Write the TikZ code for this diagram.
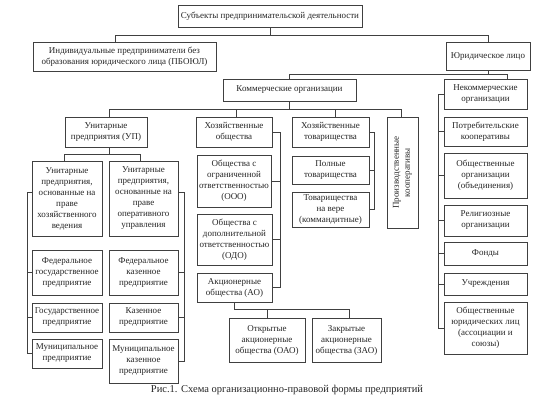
\documentclass[tikz,border=0pt]{standalone}
\usepackage{fontspec}
\setmainfont{Liberation Serif}
\begin{document}
\begin{tikzpicture}[x=1pt,y=-1pt,
  box/.style={draw=black!75, line width=0.6pt, align=center, inner sep=0.5pt,
    font=\fontsize{9pt}{11pt}\selectfont, text=black!85},
  conn/.style={draw=black!75, line width=0.6pt},
  capt/.style={font=\fontsize{10.5pt}{12pt}\selectfont, text=black!85}]
\newcommand\Bx[6][]{\node[box,minimum width={(#4-#2)*1pt},minimum height={(#5-#3)*1pt},#1] (#6) at ({(#2+#4)/2},{(#3+#5)/2})}
\fill[white] (0,0) rectangle (554,413);
\useasboundingbox (0,0) rectangle (554,413);
% boxes
\Bx{178}{5}{362}{27}{top} {Субъекты предпринимательской деятельности};
\Bx{33}{42}{216}{71}{ip} {Индивидуальные предприниматели без\\образования юридического лица (ПБОЮЛ)};
\Bx{446}{42}{530}{70}{jur} {Юридическое лицо};
\Bx{223}{79}{356}{101}{kom} {Коммерческие организации};
\Bx{444}{79}{527}{109}{nekom} {Некоммерческие\\организации};
\Bx{65}{117}{147}{147}{up} {Унитарные\\предприятия (УП)};
\Bx{196}{117}{272}{147}{hozob} {Хозяйственные\\общества};
\Bx{292}{117}{369}{147}{hoztov} {Хозяйственные\\товарищества};
\Bx[minimum width=111pt,minimum height=31pt,rotate=90]{387}{117}{418}{228}{proizv} {Производственные\\кооперативы};
\Bx{444}{117}{527}{146}{potr} {Потребительские\\кооперативы};
\Bx{444}{153}{527}{198}{obsh} {Общественные\\организации\\(объединения)};
\Bx{32}{161}{102}{236}{upleft} {Унитарные\\предприятия,\\основанные на\\праве\\хозяйственного\\ведения};
\Bx{109}{161}{178}{236}{upright} {Унитарные\\предприятия,\\основанные на\\праве\\оперативного\\управления};
\Bx{197}{155}{271}{207}{ooo} {Общества с\\ограниченной\\ответственностью\\(ООО)};
\Bx{197}{214}{272}{265}{odo} {Общества с\\дополнительной\\ответственностью\\(ОДО)};
\Bx{197}{273}{272}{302}{ao} {Акционерные\\общества (АО)};
\Bx{292}{156}{369}{184}{poln} {Полные\\товарищества};
\Bx{292}{192}{369}{227}{vera} {Товарищества\\на вере\\(коммандитные)};
\Bx{444}{205}{527}{236}{relig} {Религиозные\\организации};
\Bx{444}{242}{527}{265}{fond} {Фонды};
\Bx{444}{273}{527}{295}{uchr} {Учреждения};
\Bx{444}{302}{527}{354}{assoc} {Общественные\\юридических лиц\\(ассоциации и\\союзы)};
\Bx{32}{250}{102}{295}{fedgos} {Федеральное\\государственное\\предприятие};
\Bx{32}{303}{102}{332}{gos} {Государственное\\предприятие};
\Bx{32}{339}{102}{368}{mun} {Муниципальное\\предприятие};
\Bx{109}{250}{178}{295}{fedkaz} {Федеральное\\казенное\\предприятие};
\Bx{109}{303}{178}{332}{kaz} {Казенное\\предприятие};
\Bx{109}{339}{178}{383}{munkaz} {Муниципальное\\казенное\\предприятие};
\Bx{229}{318}{305}{362}{oao} {Открытые\\акционерные\\общества (ОАО)};
\Bx{312}{318}{381}{362}{zao} {Закрытые\\акционерные\\общества (ЗАО)};
\node[capt] (cap) at (287,390) {Рис.1. Схема организационно-правовой формы предприятий};
% helper coordinates
\coordinate (r1) at (0,35);
\coordinate (r2) at (0,74);
\coordinate (r3) at (0,109);
\coordinate (r4) at (0,154);
\coordinate (r5) at (0,309);
\coordinate (bl) at (27,0);
\coordinate (br) at (184,0);
\coordinate (bh) at (280,0);
\coordinate (bt) at (374,0);
\coordinate (bn) at (438,0);
% top level
\draw[conn] (top.south) -- (top.south |- r1);
\draw[conn] ([xshift=-9.5pt]ip.north) |- (jur.north |- r1) -- (jur.north);
% legal entity
\draw[conn] (jur.south) -- (jur.south |- r2);
\draw[conn] (kom.north) |- ([xshift=22pt]nekom.north |- r2) -- ([xshift=22pt]nekom.north);
% commercial
\draw[conn] (kom.south) -- (kom.south |- r3);
\draw[conn] ([xshift=3pt]up.north) |- ([xshift=-1.5pt]proizv.east |- r3) -- ([xshift=-1.5pt]proizv.east);
\draw[conn] ([xshift=2pt]hozob.north) -- ([xshift=2pt]hozob.north |- r3);
\draw[conn] ([xshift=4.5pt]hoztov.north) -- ([xshift=4.5pt]hoztov.north |- r3);
% unitary
\draw[conn] ([xshift=3pt]up.south) -- ([xshift=3pt]up.south |- r4);
\draw[conn] ([xshift=-3pt]upleft.north) |- ([xshift=-3.5pt]upright.north |- r4) -- ([xshift=-3.5pt]upright.north);
\draw[conn] ([yshift=6pt]upleft.west) -| (bl |- mun.west) -- (mun.west);
\draw[conn] (fedgos.west) -- (fedgos.west -| bl);
\draw[conn] (gos.west) -- (gos.west -| bl);
\draw[conn] ([yshift=6pt]upright.east) -| (br |- munkaz.east) -- (munkaz.east);
\draw[conn] (fedkaz.east) -- (fedkaz.east -| br);
\draw[conn] (kaz.east) -- (kaz.east -| br);
% companies
\draw[conn] (hozob.east) -| (bh |- ao.east) -- (ao.east);
\draw[conn] (ooo.east) -- (ooo.east -| bh);
\draw[conn] (odo.east) -- (odo.east -| bh);
\draw[conn] (ao.south) |- ([xshift=2.5pt]zao.north |- r5) -- ([xshift=2.5pt]zao.north);
\draw[conn] (oao.north) -- (oao.north |- r5);
% partnerships
\draw[conn] (hoztov.east) -| (bt |- vera.east) -- (vera.east);
\draw[conn] (poln.east) -- (poln.east -| bt);
% non-commercial
\draw[conn] (nekom.west) -| (bn |- assoc.west) -- (assoc.west);
\foreach \n in {potr,obsh,relig,fond,uchr}
  \draw[conn] (\n.west) -- (\n.west -| bn);
\end{tikzpicture}
\end{document}
